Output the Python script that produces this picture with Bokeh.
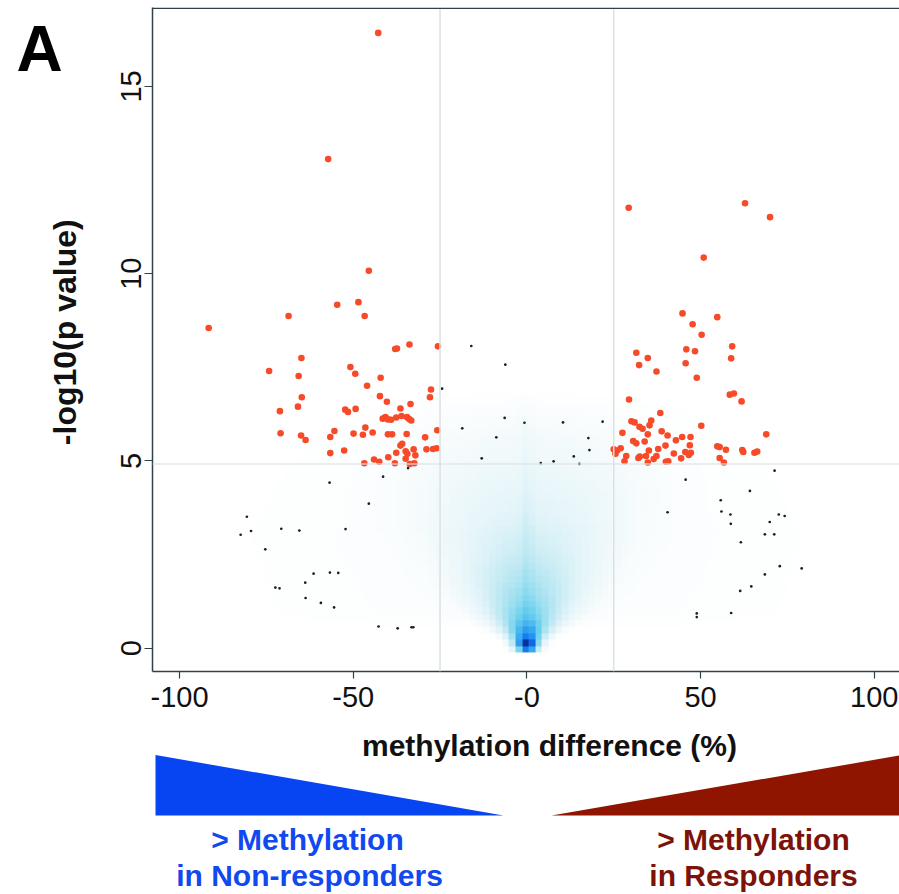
import numpy as np
from bokeh.plotting import figure
from bokeh.models import Range1d, Span, FixedTicker, LinearColorMapper
from bokeh.layouts import column, row
from bokeh.core.properties import value
from bokeh.embed import file_html
from bokeh.resources import INLINE

# ---------------- data ----------------
red_x = [-42.8, -57.2, -45.5, -54.6, -48.5, -46.7, -68.6, -91.6, -37.9, -37.4, -33.8, -25.6,
         -64.9, -74.2, -65.7, -50.8, -49.4, -42.1, -46.0, -64.8, -27.6, -27.9, -42.3, -40.3,
         -65.9, -71.1, -52.3, -51.5, -49.3, -36.4, -33.5, -41.5, -40.7, -40.0, -39.1, -37.6,
         -36.1, -34.5, -33.9, -33.3, -70.9, -65.0, -63.7, -55.4, -56.6, -49.9, -46.5, -47.2,
         -44.4, -40.0, -38.8, -34.6, -25.8, -29.3, -56.6, -52.6, -36.4, -35.9, -37.6, -34.9,
         -34.4, -32.6, -32.1, -34.9, -28.9, -27.0, -26.0, -44.0, -42.5, -39.9, -46.8, -38.0,
         -33.7, -32.4,
         29.3, 62.8, 70.0, 50.9, 44.8, 47.7, 54.8, 50.3, 31.5, 34.8, 32.3, 37.3, 45.9, 48.4,
         45.7, 59.1, 58.8, 48.9, 58.4, 59.6, 61.8, 29.4, 38.4, 50.2, 30.1, 31.0, 32.4, 33.3,
         35.8, 35.3, 27.5, 34.8, 38.8, 40.5, 44.7, 47.1, 42.9, 30.6, 31.5, 33.9, 39.9, 46.9,
         54.8, 55.5, 57.3, 62.0, 62.3, 65.5, 66.3, 68.9, 27.0, 26.0, 25.0, 25.5, 28.6, 28.1,
         32.1, 32.5, 34.3, 34.8, 35.1, 37.8, 36.5, 37.3, 40.0, 40.7, 42.3, 44.4, 45.6, 46.6,
         47.2, 55.5, 56.7]
red_y = [16.43, 13.06, 10.08, 9.17, 9.24, 8.87, 8.87, 8.55, 7.99, 8.00, 8.11, 8.06,
         7.75, 7.40, 7.27, 7.51, 7.33, 7.22, 7.01, 6.70, 6.91, 6.70, 6.73, 6.58,
         6.45, 6.33, 6.37, 6.31, 6.39, 6.40, 6.52, 6.13, 6.17, 6.11, 6.10, 6.16,
         6.20, 6.17, 6.12, 6.08, 5.74, 5.68, 5.56, 5.80, 5.64, 5.73, 5.89, 5.70,
         5.76, 5.71, 5.71, 5.72, 5.82, 5.63, 5.21, 5.28, 5.41, 5.46, 5.22, 5.26,
         5.19, 5.31, 5.15, 5.06, 5.31, 5.32, 5.34, 5.04, 4.98, 5.10, 4.94, 4.94,
         4.92, 4.94,
         11.76, 11.88, 11.51, 10.43, 8.94, 8.65, 8.84, 8.37, 7.89, 7.75, 7.56, 7.39, 7.98, 7.93,
         7.61, 8.06, 7.74, 7.22, 6.77, 6.80, 6.59, 6.64, 6.28, 5.94, 6.06, 6.03, 5.91, 5.86,
         6.08, 5.95, 5.75, 5.71, 5.79, 5.68, 5.64, 5.64, 5.55, 5.53, 5.47, 5.52, 5.41, 5.42,
         5.39, 5.37, 5.30, 5.29, 5.24, 5.22, 5.25, 5.71, 5.34, 5.28, 5.31, 5.19, 5.13, 4.99,
         5.08, 5.12, 5.13, 4.96, 5.28, 5.32, 5.05, 5.13, 4.98, 4.99, 5.20, 5.07, 5.24, 5.16,
         5.22, 5.08, 4.96]

black_x = [-24.4, -18.6, -41.4, -34.2, -16.0, -6.2, -6.4, -0.7, 10.4, 21.8, -8.8, 17.7, -13.0,
           18.0, 13.5, 4.0, 7.7, 15.1, 71.3, 45.7, -56.8, -45.5, -80.6, -82.4, -79.4, -70.7,
           -65.5, -52.2, -75.3, -61.4, -56.7, -54.3, -63.8, -72.4, -71.2, -63.7, -59.3, -55.5,
           -42.7, -37.2, -33.2, -32.7, 64.2, 55.8, 40.5, 56.0, 58.6, 58.7, 72.5, 74.2, 69.9,
           68.5, 71.2, 61.6, 72.8, 79.1, 68.5, 64.6, 61.4, 48.9, 48.9, 58.8]
black_y = [6.93, 5.87, 4.58, 4.81, 8.07, 7.57, 6.15, 6.02, 6.03, 6.05, 5.63, 5.61, 5.07,
           5.29, 5.12, 4.94, 4.99, 4.92, 4.74, 4.50, 4.42, 3.86, 3.51, 3.03, 3.13, 3.19,
           3.14, 3.18, 2.64, 1.99, 2.02, 2.01, 1.75, 1.62, 1.60, 1.34, 1.21, 1.09,
           0.58, 0.53, 0.56, 0.56, 4.20, 3.95, 3.63, 3.65, 3.57, 3.32, 3.57, 3.53, 3.37,
           3.04, 3.04, 2.83, 2.19, 2.13, 1.97, 1.65, 1.53, 0.93, 0.83, 0.94]

# density background (smoothed scatter of all CpGs), read as profiles per height
dens_y = [-0.15, 0.0, 0.1, 0.3, 0.5, 0.75, 1.1, 1.6, 2.5, 3.5, 5.0, 7.0]
dens_sigma = [2.0, 2.0, 2.2, 3.0, 4.2, 5.8, 7.5, 9.5, 12.5, 16.0, 21.0, 24.0]
dens_peak = [0.0, 0.9, 1.0, 0.72, 0.56, 0.43, 0.34, 0.26, 0.15, 0.08, 0.03, 0.0]
stripe_y = [0.0, 1.0, 3.0, 5.0, 7.0]
stripe_level = [0.0, 0.05, 0.05, 0.025, 0.0]
halo_y = [0.3, 1.0, 3.0, 5.0, 7.0]
halo_level = [0.0, 0.012, 0.015, 0.01, 0.0]

x_ticks = [-100, -50, 0, 50, 100]
x_tick_labels = ["-100", "-50", "-0", "50", "100"]
y_ticks = [0, 5, 10, 15]
diff_cut = 25
p_cut = 4.92

# ---------------- styles ----------------
FONT = "Liberation Sans"
AX = "#2f4247"
X0, X1 = -107.77, 107.26
Y0, Y1 = -0.622, 17.108
SHIFT = 0.38  # offset of the text glyph baseline, in em

p = figure(frame_width=747, frame_height=664, min_border_left=52, min_border_right=0,
           min_border_top=7, min_border_bottom=59,
           x_range=Range1d(X0, X1), y_range=Range1d(Y0, Y1),
           output_backend="svg", toolbar_location=None)
p.outline_line_color = None
p.xgrid.visible = False
p.ygrid.visible = False

# density image
cw, ch = 1.9, 0.17
xs = np.arange(X0, X1 + cw, cw) + cw / 2
ys = np.arange(Y0, Y1 + ch, ch) + ch / 2
XX, YY = np.meshgrid(xs, ys)
sig = np.interp(YY, dens_y, dens_sigma)
pk = np.interp(YY, dens_y, dens_peak, left=0.0, right=0.0)
img = pk * np.exp(-XX ** 2 / (2 * sig ** 2))
img += np.interp(YY, stripe_y, stripe_level, left=0, right=0) * np.exp(-XX ** 2 / (2 * 1.2 ** 2))
img += np.interp(YY, halo_y, halo_level, left=0, right=0) * np.exp(-XX ** 2 / (2 * 48.0 ** 2))
img[YY < -0.15] = 0

anchors = [(0.0, "#ffffff"), (0.03, "#f2f9fb"), (0.1, "#dff3f8"), (0.2, "#bfe9f3"),
           (0.3, "#99dff0"), (0.42, "#66cdee"), (0.55, "#35aaf0"), (0.7, "#1a80f0"),
           (0.85, "#0a50d8"), (1.0, "#001c70")]
def hex2rgb(h):
    return [int(h[i:i + 2], 16) for i in (1, 3, 5)]
pal = []
av = [a for a, _ in anchors]
ac = np.array([hex2rgb(c) for _, c in anchors], float)
for t in np.linspace(0, 1, 256):
    r = np.interp(t, av, ac[:, 0]); g = np.interp(t, av, ac[:, 1]); b = np.interp(t, av, ac[:, 2])
    pal.append("#%02x%02x%02x" % (int(round(r)), int(round(g)), int(round(b))))
mapper = LinearColorMapper(palette=pal, low=0, high=1)
p.image(image=[img], x=X0, y=Y0, dw=len(xs) * cw, dh=len(ys) * ch, color_mapper=mapper)

p.scatter(black_x, black_y, size=2.7, marker="circle", fill_color="#122029", line_color=None)
p.scatter(red_x, red_y, size=6.6, marker="circle", fill_color="#f64a28", line_color=None)

for loc in (-diff_cut, diff_cut):
    p.add_layout(Span(location=loc, dimension="height", line_color="#d9e2e5", line_width=1.5))
p.add_layout(Span(location=p_cut, dimension="width", line_color="#dce4e7", line_width=1.5, line_alpha=0.8))
p.add_layout(Span(location=Y1 - 0.02, dimension="width", line_color=AX, line_width=1.5))

for ax in (p.xaxis[0], p.yaxis[0]):
    ax.axis_line_color = AX
    ax.axis_line_width = 1.5
    ax.major_tick_line_color = AX
    ax.major_tick_line_width = 1.2
    ax.minor_tick_line_color = None
    ax.major_tick_in = 0
    ax.major_label_text_font = FONT
    ax.major_label_text_font_size = "29px"
    ax.major_label_text_color = "#111111"

p.xaxis[0].ticker = FixedTicker(ticks=x_ticks)
p.xaxis[0].major_label_overrides = {t: s for t, s in zip(x_ticks, x_tick_labels)}
p.xaxis[0].major_tick_out = 7
p.xaxis[0].major_label_standoff = 8

p.yaxis[0].ticker = FixedTicker(ticks=y_ticks)
p.yaxis[0].major_tick_out = 8
p.yaxis[0].major_label_orientation = "vertical"
p.yaxis[0].major_label_standoff = 3

# ---------------- left strip: panel letter and y title ----------------
y_title = "-log10(p value)"
L = figure(width=100, height=730, x_range=Range1d(0, 100), y_range=Range1d(-730, 0),
           min_border=0, x_axis_location=None, y_axis_location=None,
           output_backend="svg", toolbar_location=None)
L.outline_line_color = None
L.xgrid.visible = False
L.ygrid.visible = False
L.text(x=[16], y=[-(70 - SHIFT * 64)], text=["A"], text_font=value(FONT), text_font_style="bold",
       text_font_size="64px", text_align="left", text_baseline="alphabetic", text_color="#000000")
L.text(x=[64], y=[-357], text=[y_title], angle=np.pi / 2, text_font=value(FONT),
       text_font_style="bold", text_font_size="32px", text_align="center",
       text_baseline="middle", text_color="#111111")

# ---------------- lower panel ----------------
q = figure(width=899, height=164, x_range=Range1d(0, 899), y_range=Range1d(-894, -730),
           min_border=0, x_axis_location=None, y_axis_location=None,
           output_backend="svg", toolbar_location=None)
q.outline_line_color = None
q.xgrid.visible = False
q.ygrid.visible = False

x_title = "methylation difference (%)"
blue_lines = ["> Methylation", "in Non-responders"]
red_lines = ["> Methylation", "in Responders"]
BLUE, BLUE_T = "#0745f2", "#1148f0"
RED, RED_T = "#901500", "#7d1208"
d = SHIFT * 30

q.patch([155, 155, 503], [-754.5, -815, -815], fill_color=BLUE, line_color=None)
q.patch([551, 899, 899], [-815, -815, -755], fill_color=RED, line_color=None)
q.text(x=[549], y=[-(756.5 - d)], text=[x_title], text_font=value(FONT), text_font_style="bold",
       text_font_size="30px", text_align="center", text_baseline="alphabetic", text_color="#111111")
q.text(x=[307, 309], y=[-(850 - d), -(886 - d)], text=blue_lines, text_font=value(FONT),
       text_font_style="bold", text_font_size="30px", text_align="center",
       text_baseline="alphabetic", text_color=BLUE_T)
q.text(x=[753, 753], y=[-(850.5 - d), -(886.5 - d)], text=red_lines, text_font=value(FONT),
       text_font_style="bold", text_font_size="30px", text_align="center",
       text_baseline="alphabetic", text_color=RED_T)

layout = column(row(L, p, spacing=0), q, spacing=0)
open("out.html", "w").write(file_html(layout, INLINE))
